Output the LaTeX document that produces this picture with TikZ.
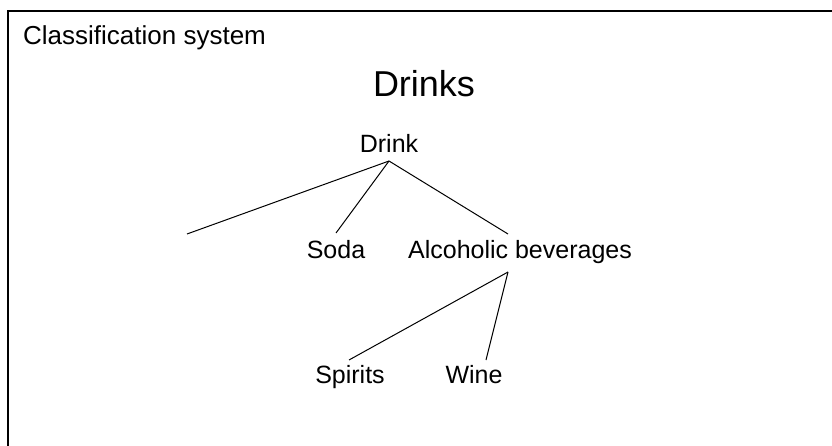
\documentclass[tikz,border=0pt]{standalone}
\usepackage{fontspec}
\setmainfont{Liberation Sans}
\begin{document}
\begin{tikzpicture}[x=1pt,y=1pt,
  label/.style={inner sep=0pt,anchor=base,font=\fontsize{25}{30}\selectfont},
  heading/.style={inner sep=0pt,anchor=base,font=\fontsize{36}{42}\selectfont},
  branch/.style={line width=1pt,black},
  frame/.style={line width=2pt,black}]
\useasboundingbox (0,0) rectangle (832,445);
\clip (0,0) rectangle (832,445);

% outer frame (open to the right and bottom)
\draw[frame] (8,-20) -- (8,434) -- (860,434);

% captions
\node[label,anchor=base west,font=\fontsize{26}{31}\selectfont] (caption) at (23,400) {Classification system};
\node[heading] (title) at (424,348) {Drinks};

% tree
\node[label] (drink) at (389,292) {Drink};
\node[label] (soda) at (336,187) {Soda};
\node[label] (alcohol) at (520,187) {Alcoholic beverages};
\node[label] (spirits) at (350,62) {Spirits};
\node[label] (wine) at (474,62) {Wine};
\coordinate (empty) at (187,211);

\draw[branch] ([yshift=-8pt]drink.base) -- (empty);
\draw[branch] ([yshift=-8pt]drink.base) -- ([yshift=25pt]soda.base);
\draw[branch] ([yshift=-8pt]drink.base) -- ([xshift=-12pt,yshift=24pt]alcohol.base);
\draw[branch] ([xshift=-12pt,yshift=-14pt]alcohol.base) -- ([xshift=-1pt,yshift=23pt]spirits.base);
\draw[branch] ([xshift=-12pt,yshift=-14pt]alcohol.base) -- ([xshift=12pt,yshift=23pt]wine.base);
\end{tikzpicture}
\end{document}
